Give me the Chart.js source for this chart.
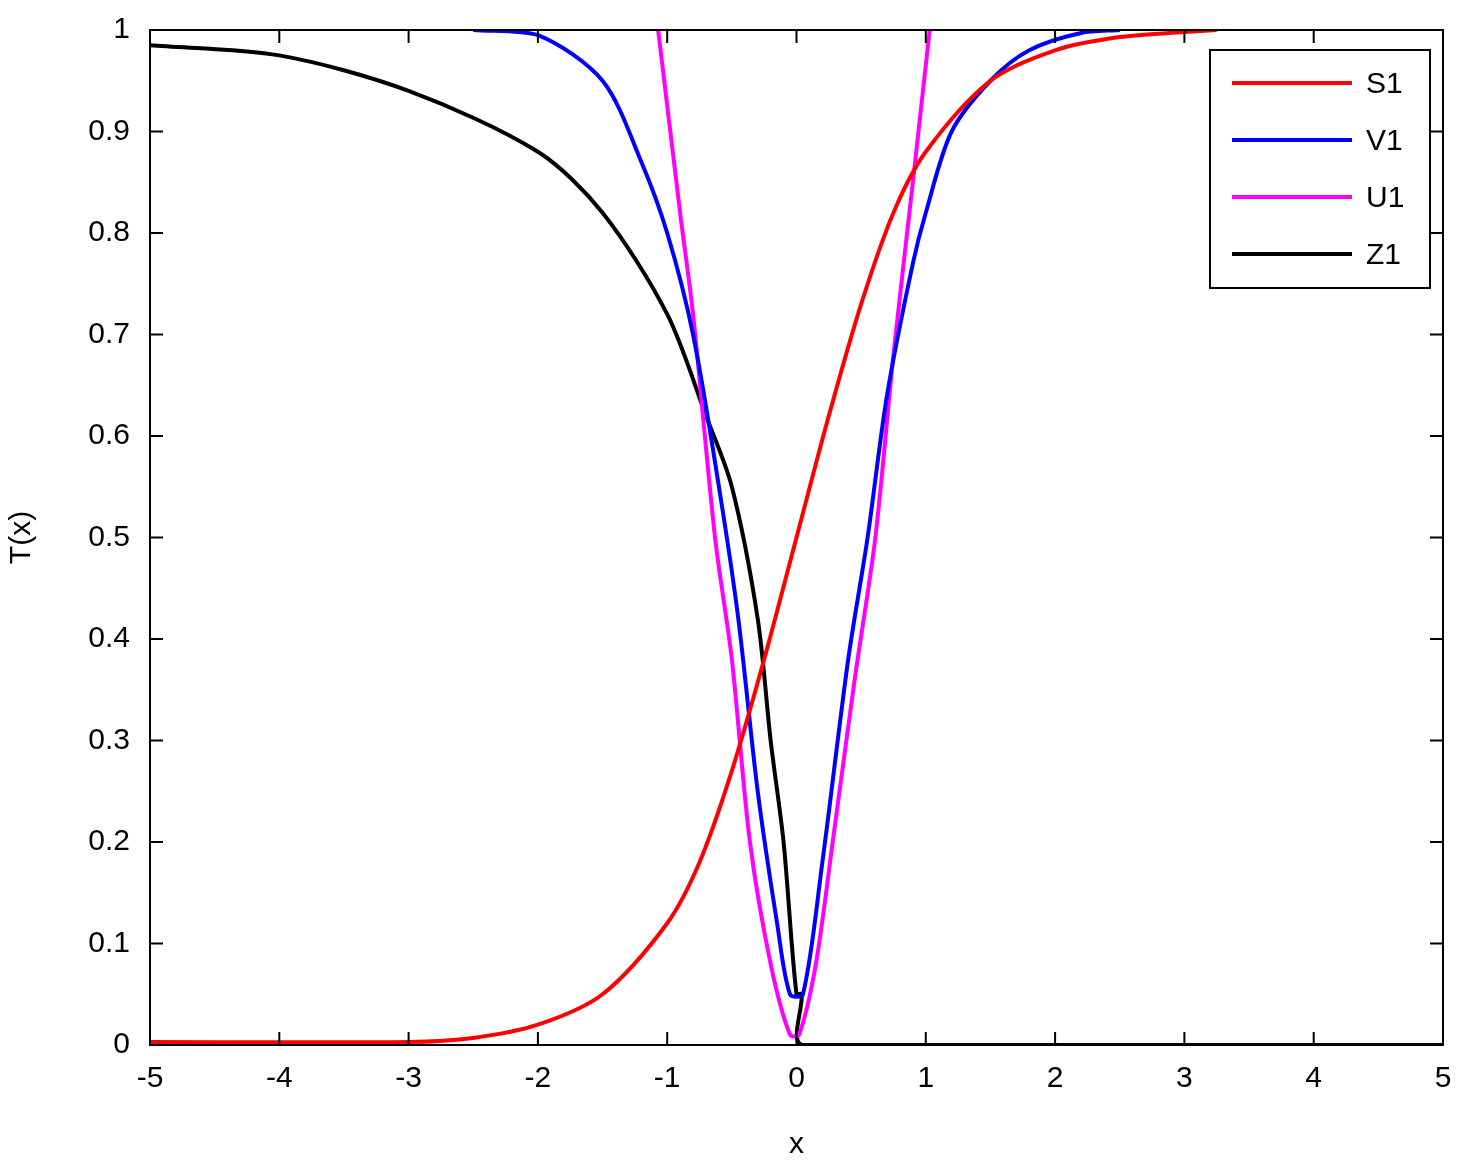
<!DOCTYPE html>
<html>
<head>
<meta charset="utf-8">
<script src="https://cdn.jsdelivr.net/npm/chart.js@4/dist/chart.umd.min.js"></script>
<style>
  html, body { margin: 0; padding: 0; background: #fff; }
  #wrap { width: 1474px; height: 1167px; }
</style>
</head>
<body>
<div id="wrap"><canvas id="chart" width="1474" height="1167"></canvas></div>
<script>
// values
const s1X = [-5, -3, -2.5, -2, -1.5, -1, -0.75, -0.5, -0.25, 0, 0.25, 0.5, 0.75, 1, 1.5, 2, 2.5, 3, 3.25];
const s1Y = [0.003, 0.003, 0.007, 0.02, 0.05, 0.12, 0.18, 0.27, 0.38, 0.5, 0.62, 0.73, 0.82, 0.88, 0.95, 0.98, 0.993, 0.998, 1];

const v1X = [-2.5, -2, -1.5, -1.2, -1, -0.8, -0.6, -0.45, -0.3, -0.15, -0.05, 0.05, 0.2, 0.4, 0.55, 0.7, 0.9, 1.0, 1.2, 1.5, 1.8, 2.2, 2.5];
const v1Y = [1, 0.995, 0.95, 0.87, 0.8, 0.7, 0.55, 0.42, 0.25, 0.12, 0.05, 0.05, 0.18, 0.38, 0.5, 0.64, 0.77, 0.82, 0.9, 0.95, 0.98, 0.997, 1];

const u1X = [-1.07, -0.9, -0.8, -0.63, -0.5, -0.36, -0.2, -0.05, 0.02, 0.15, 0.28, 0.45, 0.61, 0.75, 0.9, 1.03];
const u1Y = [1, 0.82, 0.72, 0.5, 0.38, 0.2, 0.08, 0.01, 0.01, 0.08, 0.2, 0.36, 0.5, 0.68, 0.85, 1];

const z1X = [-5, -4, -3, -2, -1.5, -1, -0.7, -0.5, -0.3, -0.2, -0.1, 0, 0.04, 0.05, 5];
const z1Y = [0.985, 0.975, 0.94, 0.88, 0.82, 0.72, 0.62, 0.55, 0.42, 0.3, 0.2, 0.05, 0.05, 0, 0];

const xTicks = [-5, -4, -3, -2, -1, 0, 1, 2, 3, 4, 5];
const yTicks = [0, 0.1, 0.2, 0.3, 0.4, 0.5, 0.6, 0.7, 0.8, 0.9, 1];

function pts(xs, ys) { return xs.map((x, i) => ({ x: x, y: ys[i] })); }

function series(label, xs, ys, color) {
    return {
        label: label,
        data: pts(xs, ys),
        borderColor: color,
        borderWidth: 4,
        pointRadius: 0,
        tension: 0.3,
        fill: false
    };
}

const font = { family: 'Liberation Sans, Arial, sans-serif', size: 30 };

// frame, mirrored inside ticks and legend box
const framePlugin = {
    id: 'frame',
    afterDraw(chart) {
        const ctx = chart.ctx;
        const a = chart.chartArea;
        const xs = chart.scales.x, ys = chart.scales.y;
        ctx.save();
        ctx.strokeStyle = '#000';
        ctx.lineWidth = 2;
        ctx.strokeRect(a.left, a.top, a.right - a.left, a.bottom - a.top);
        ctx.beginPath();
        xTicks.forEach(v => {
            const p = xs.getPixelForValue(v);
            ctx.moveTo(p, a.bottom); ctx.lineTo(p, a.bottom - 13);
            ctx.moveTo(p, a.top); ctx.lineTo(p, a.top + 13);
        });
        yTicks.forEach(v => {
            const p = ys.getPixelForValue(v);
            ctx.moveTo(a.left, p); ctx.lineTo(a.left + 13, p);
            ctx.moveTo(a.right, p); ctx.lineTo(a.right - 13, p);
        });
        ctx.stroke();

        // legend
        const lx = 1210, ly = 50, lw = 220, lh = 238;
        ctx.fillStyle = '#fff';
        ctx.fillRect(lx, ly, lw, lh);
        ctx.strokeRect(lx, ly, lw, lh);
        ctx.font = '30px ' + font.family;
        ctx.textBaseline = 'middle';
        chart.data.datasets.forEach((d, i) => {
            const yy = ly + 33 + i * 57;
            ctx.strokeStyle = d.borderColor;
            ctx.lineWidth = 4;
            ctx.beginPath();
            ctx.moveTo(lx + 22, yy); ctx.lineTo(lx + 142, yy);
            ctx.stroke();
            ctx.fillStyle = '#000';
            ctx.fillText(d.label, lx + 156, yy + 2);
        });
        ctx.restore();
    }
};

new Chart(document.getElementById('chart'), {
    type: 'line',
    data: {
        datasets: [
            series('S1', s1X, s1Y, '#ff0000'),
            series('V1', v1X, v1Y, '#0000ff'),
            series('U1', u1X, u1Y, '#ff00ff'),
            series('Z1', z1X, z1Y, '#000000')
        ]
    },
    options: {
        responsive: false,
        animation: false,
        layout: { padding: { top: 30, right: 31, left: 0, bottom: 0 } },
        plugins: { legend: { display: false }, tooltip: { enabled: false } },
        scales: {
            x: {
                type: 'linear', min: -5, max: 5,
                afterBuildTicks: s => { s.ticks = xTicks.map(v => ({ value: v })); },
                afterFit: s => { s.height = 122; },
                grid: { display: false },
                border: { display: false },
                ticks: { color: '#000', font: font, padding: 8, maxRotation: 0 },
                title: { display: true, text: 'x', color: '#000', font: font, padding: { top: 0 } }
            },
            y: {
                min: 0, max: 1,
                afterBuildTicks: s => { s.ticks = yTicks.map(v => ({ value: v })); },
                afterFit: s => { s.width = 150; },
                grid: { display: false },
                border: { display: false },
                ticks: { color: '#000', font: font, padding: 12, callback: v => String(v) },
                title: { display: true, text: 'T(x)', color: '#000', font: font, padding: { bottom: 20 } }
            }
        }
    },
    plugins: [framePlugin]
});
</script>
</body>
</html>
